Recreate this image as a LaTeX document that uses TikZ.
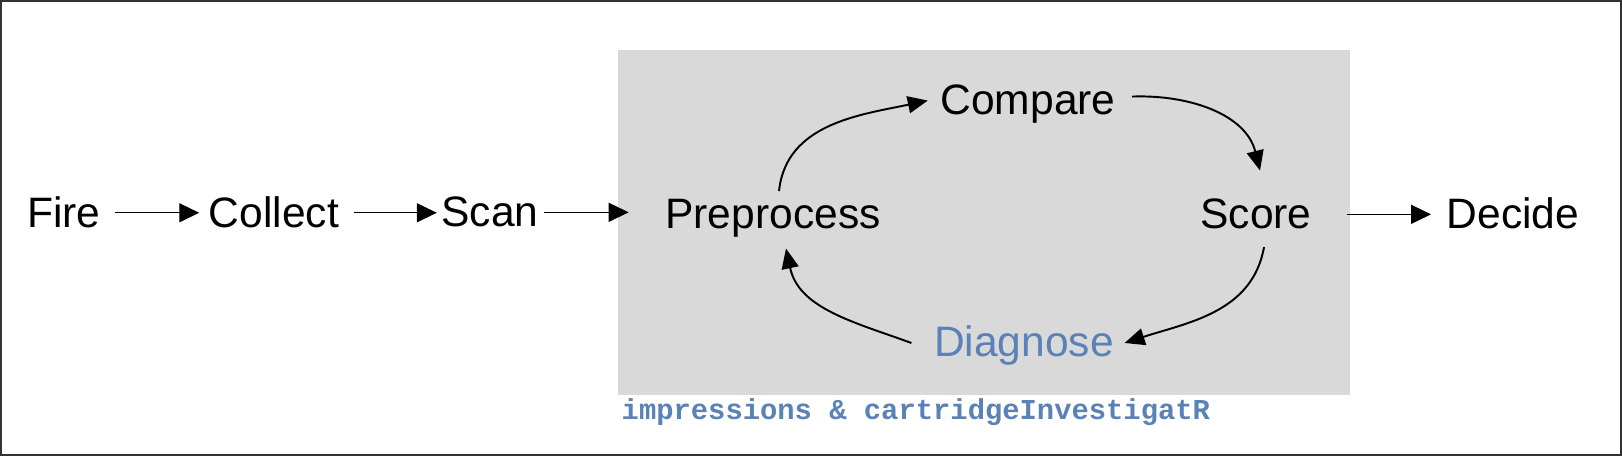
\documentclass[tikz,border=0pt]{standalone}
\usepackage{fontspec}
\setmainfont{Liberation Sans}
\setmonofont{Liberation Mono}
\usetikzlibrary{arrows.meta}
\definecolor{diagblue}{HTML}{5A82B6}
\definecolor{loopgray}{HTML}{D9D9D9}

\begin{document}
\begin{tikzpicture}[x=0.01cm,y=-0.01cm,
    stage/.style={inner sep=0pt,anchor=base,font=\fontsize{12.1pt}{14pt}\selectfont},
    flow/.style={-{Triangle[length=0.2cm,width=0.19cm]},line width=0.4pt},
    loopedge/.style={-{Triangle[length=0.2cm,width=0.17cm]},line width=0.55pt}]
  \useasboundingbox (0,0) rectangle (1622,456);
  \draw[line width=0.5pt,black!80] (1,1) rectangle (1621,455);
  \fill[loopgray] (618,50) rectangle (1350,395);
  \node[stage] (fire) at (64,228) {Fire};
  \node[stage] (collect) at (274,228) {Collect};
  \node[stage] (scan) at (490,227) {Scan};
  \node[stage] (pre) at (773,229) {Preprocess};
  \node[stage] (cmp) at (1028,115) {Compare};
  \node[stage] (score) at (1256,229) {Score};
  \node[stage,text=diagblue] (diag) at (1024,357) {Diagnose};
  \node[stage] (decide) at (1513,229) {Decide};
  \node[anchor=base west,inner sep=0pt,text=diagblue,font=\fontsize{8.2pt}{10pt}\selectfont\ttfamily\bfseries] (pkg) at (621,420) {impressions \& cartridgeInvestigatR};
  \draw[flow,shorten <=0.14cm,shorten >=0.09cm] (fire) -- (fire -| collect.west);
  \draw[flow,shorten <=0.14cm,shorten >=0.04cm] (collect) -- (collect -| scan.west);
  \draw[flow,shorten <=0.05cm,shorten >=0.36cm] (scan) -- (scan -| pre.west);
  \draw[flow,shorten <=0.35cm,shorten >=0.15cm] (score) -- (score -| decide.west);
  \draw[loopedge] ([shift={(6,-8)}]pre.north) to[out=84,in=192] ([shift={(-12,-4)}]cmp.west);
  \draw[loopedge] ([shift={(16,-8)}]cmp.east) to[out=2,in=104] ([shift={(4,-28)}]score.north);
  \draw[loopedge] ([shift={(8,17)}]score.south) to[out=-100,in=18] ([shift={(10,-3)}]diag.east);
  \draw[loopedge] ([shift={(-22,-3)}]diag.west) to[out=160,in=-78] ([shift={(13,10)}]pre.south);
\end{tikzpicture}
\end{document}
